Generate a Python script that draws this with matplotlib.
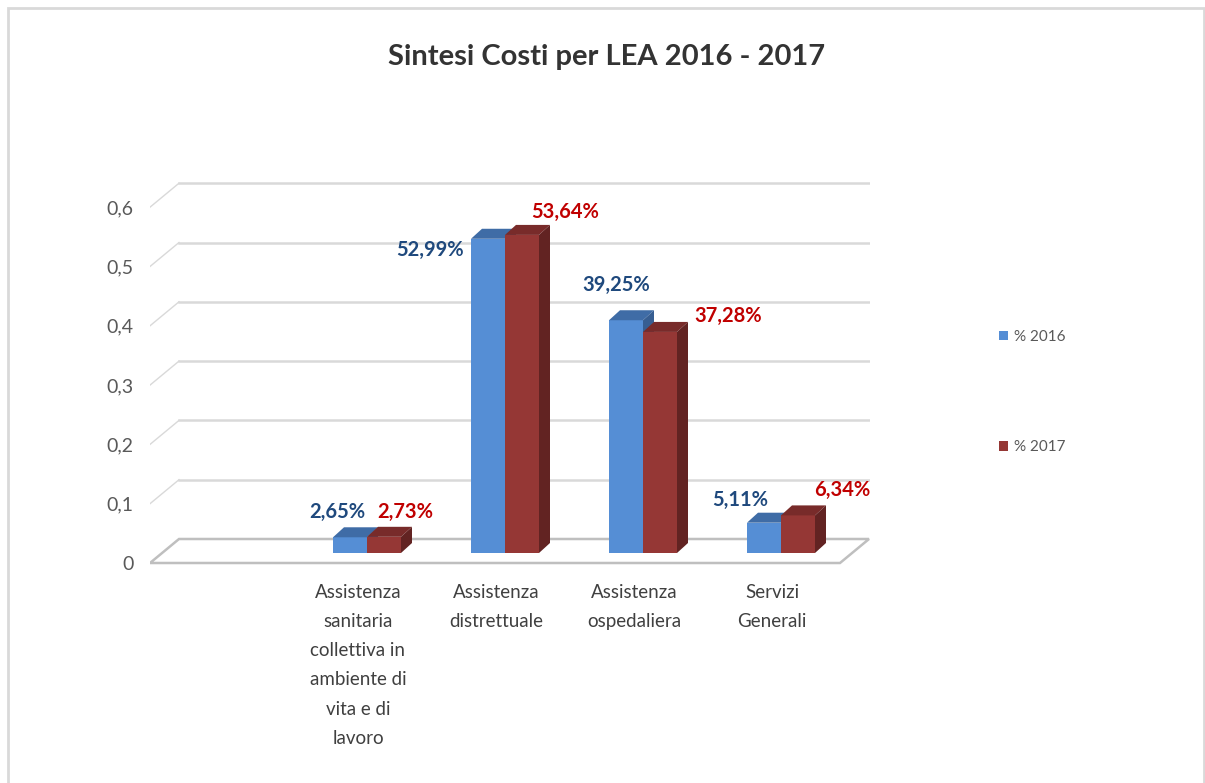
import matplotlib.pyplot as plt
from matplotlib.patches import Polygon, Rectangle, Patch
from matplotlib.transforms import ScaledTranslation

plt.rcParams['font.family'] = ['Lato', 'DejaVu Sans']

# dati del grafico
categorie = ['Assistenza\nsanitaria\ncollettiva in\nambiente di\nvita e di\nlavoro',
             'Assistenza\ndistrettuale',
             'Assistenza\nospedaliera',
             'Servizi\nGenerali']
perc_2016 = [0.0265, 0.5299, 0.3925, 0.0511]
perc_2017 = [0.0273, 0.5364, 0.3728, 0.0634]
etichette_2016 = ['2,65%', '52,99%', '39,25%', '5,11%']
etichette_2017 = ['2,73%', '53,64%', '37,28%', '6,34%']
y_valori = [0, 0.1, 0.2, 0.3, 0.4, 0.5, 0.6]
y_etichette = ['0', '0,1', '0,2', '0,3', '0,4', '0,5', '0,6']
serie = ['% 2016', '% 2017']

W, H = 1205, 783
fig = plt.figure(figsize=(W / 100, H / 100), dpi=100)

# geometria in pixel della pseudo-prospettiva (stile Excel 3D)
px_cat, px_unit = 138.0, 593.0
x0_px, y0_px = 367.0, 553.0
left_px, right_px, top_px, bot_px = 150, 870, 150, 570

ax = fig.add_axes([left_px / W, 1 - bot_px / H, (right_px - left_px) / W, (bot_px - top_px) / H])
ax.set_xlim((left_px - x0_px) / px_cat, (right_px - x0_px) / px_cat)
ax.set_ylim((y0_px - bot_px) / px_unit, (y0_px - top_px) / px_unit)

fx, fy = -12 / px_cat, -10 / px_unit      # bordo anteriore del pavimento
bx, by = 17 / px_cat, 14 / px_unit        # parete di fondo
dx, dy = 11 / px_cat, 10 / px_unit        # profondità barre
w = 34 / px_cat

xl = ax.get_xlim()[0]
xl_back = xl + (bx - fx)
xr_back = (869 - x0_px) / px_cat
xr_front = xr_back - (bx - fx)

# pavimento
floor = Polygon([(xl, fy), (xl_back, by), (xr_back, by), (xr_front, fy)], closed=True,
                facecolor='white', edgecolor='#bfbfbf', lw=1.8, zorder=1)
ax.add_patch(floor)

# griglia
for v in y_valori[1:]:
    ax.plot([xl_back, xr_back], [v + by, v + by], color='#d9d9d9', lw=1.8, zorder=0.5)
    ax.plot([xl, xl_back], [v + fy, v + by], color='#d9d9d9', lw=1.0, zorder=0.5)

x = list(range(len(categorie)))
colori = [('#558ED5', '#3F6CA6', '#375E92'), ('#953735', '#782B2A', '#622322')]

for k, valori in enumerate([perc_2016, perc_2017]):
    front, top, side = colori[k]
    xs = [xi - w + k * w for xi in x]
    ax.bar(xs, valori, width=w, align='edge', color=front, zorder=3 + k * 0.1)
    for xa, v in zip(xs, valori):
        ax.add_patch(Polygon([(xa, v), (xa + w, v), (xa + w + dx, v + dy), (xa + dx, v + dy)],
                             closed=True, facecolor=top, edgecolor='none', zorder=3 + k * 0.1))
        ax.add_patch(Polygon([(xa + w, 0), (xa + w, v), (xa + w + dx, v + dy), (xa + w + dx, dy)],
                             closed=True, facecolor=side, edgecolor='none', zorder=3 + k * 0.1))

# etichette dati (posizionate a mano come nell'originale)
off_2016 = [(-13, 25), (-58, -11), (-10, 35), (-24, 23)]
off_2017 = [(21, 25), (43, 23), (68, 16), (44, 25)]
for i in x:
    ax.annotate(etichette_2016[i], (i - w / 2, perc_2016[i]), xytext=off_2016[i],
                textcoords='offset pixels', ha='center', va='center',
                fontsize=14.5, fontweight='bold', color='#1F497D', zorder=6)
    ax.annotate(etichette_2017[i], (i + w / 2, perc_2017[i]), xytext=off_2017[i],
                textcoords='offset pixels', ha='center', va='center',
                fontsize=14.5, fontweight='bold', color='#C00000', zorder=6)

# assi
ax.set_yticks([v + fy for v in y_valori], y_etichette)
ax.set_xticks(x, categorie)
ax.tick_params(axis='y', length=0, pad=12, labelsize=14, labelcolor='#595959')
ax.tick_params(axis='x', length=0, pad=10, labelsize=13.5, labelcolor='#404040')
# in prospettiva le etichette di categoria risultano un po' spostate a sinistra
for lab in ax.get_xticklabels():
    lab.set_linespacing(1.87)
    lab.set_transform(lab.get_transform() + ScaledTranslation(-9 / 100, 0, fig.dpi_scale_trans))
for s in ax.spines.values():
    s.set_visible(False)
ax.patch.set_alpha(0)

fig.text(607 / W, 1 - 57 / H, 'Sintesi Costi per LEA 2016 - 2017', ha='center', va='center',
         fontsize=21, fontweight='bold', color='#333333')

handles = [Patch(facecolor=colori[0][0]), Patch(facecolor=colori[1][0])]
fig.legend(handles, serie, loc='center left', bbox_to_anchor=(985 / W, 1 - 392 / H),
           frameon=False, fontsize=11, labelcolor='#595959', handlelength=0.6,
           handleheight=0.6, handletextpad=0.4, labelspacing=6.3)

# cornice
fig.add_artist(Rectangle((8 / W, -0.02), (1204 - 8) / W, 1.02 - 8 / H, transform=fig.transFigure,
                         fill=False, edgecolor='#d9d9d9', lw=2))

fig.savefig('out.png', dpi=100)
